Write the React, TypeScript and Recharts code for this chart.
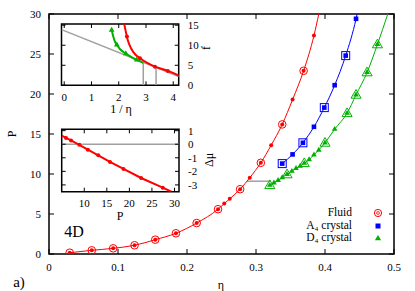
import React from "react";
import { ComposedChart, Line, XAxis, YAxis, ReferenceArea } from "recharts";

const SERIF = '"Liberation Serif", "DejaVu Serif", serif';
const RED = "#ff0000";
const BLUE = "#0000ff";
const GREEN = "#00b000";
const GRAY = "#a0a0a0";

// main panel: pressure vs packing fraction
const etaTicks = [0, 0.1, 0.2, 0.3, 0.4, 0.5];
const pTicks = [0, 5, 10, 15, 20, 25, 30];

const fluidEta = [0.03, 0.062, 0.093, 0.124, 0.154, 0.184, 0.214, 0.245, 0.254, 0.262, 0.277, 0.291, 0.307, 0.322, 0.338, 0.353, 0.369, 0.384, 0.391];
const fluidP = [0.16, 0.46, 0.71, 1.09, 1.79, 2.59, 3.87, 5.6, 6.3, 6.9, 8.1, 9.54, 11.4, 13.6, 16.2, 19.3, 22.9, 27.3, 30];
const fluidSimEta = [0.03, 0.062, 0.093, 0.124, 0.154, 0.184, 0.214, 0.245, 0.277, 0.307, 0.338, 0.369];
const fluidSimP = [0.16, 0.46, 0.71, 1.09, 1.79, 2.59, 3.87, 5.6, 8.1, 11.4, 16.2, 22.9];

const a4Eta = [0.338, 0.353, 0.368, 0.384, 0.399, 0.414, 0.43, 0.445, 0.4465];
const a4P = [11.3, 12.45, 13.9, 15.9, 18.3, 21.1, 24.8, 29.4, 30];
const a4SimEta = [0.338, 0.368, 0.399, 0.43];
const a4SimP = [11.3, 13.9, 18.3, 24.8];

const d4Eta = [0.32, 0.326, 0.332, 0.338, 0.345, 0.352, 0.358, 0.364, 0.37, 0.377, 0.384, 0.391, 0.4, 0.414, 0.432, 0.445, 0.461, 0.476, 0.491];
const d4P = [8.6, 8.9, 9.2, 9.55, 9.95, 10.35, 10.7, 11.0, 11.35, 11.8, 12.4, 13.0, 13.9, 15.6, 17.6, 19.9, 22.7, 26.2, 30];
const d4SimEta = [0.32, 0.345, 0.37, 0.4, 0.432, 0.445, 0.461, 0.476];
const d4SimP = [8.6, 9.95, 11.35, 13.9, 17.6, 19.9, 22.7, 26.2];

const tieEta = [0.287, 0.321];
const tieP = [9.1, 9.1];

// upper inset: free energy vs 1/eta
const invEtaTicks = [0, 1, 2, 3, 4];
const fTicks = [0, 5, 10, 15];
const tangentInvEta = [-0.1, 4.2];
const tangentF = [13.9, 2.2];
const fluidInvEta = [2.2, 2.26, 2.33, 2.45, 2.6, 2.78, 3.03, 3.33, 3.8, 4.2];
const fluidF = [15.3, 13.4, 11.3, 9.25, 7.75, 6.75, 5.65, 4.65, 3.6, 2.45];
const fluidDotInvEta = [2.3, 2.78, 3.33, 3.8];
const fluidDotF = [12.2, 6.75, 4.65, 3.6];
const d4InvEta = [1.74, 1.8, 1.86, 1.93, 2.05, 2.26, 2.48, 2.66, 2.9];
const d4F = [13.8, 12.2, 10.9, 10.1, 9.0, 7.9, 7.0, 6.35, 5.6];
const d4TriInvEta = [1.74, 1.93, 2.26, 2.66];
const d4TriF = [13.8, 10.1, 7.9, 6.35];
const coexInvEta = [2.9, 3.37];
const coexF = [5.7, 4.5];

// lower inset: chemical potential difference vs P
const pInsetTicks = [10, 15, 20, 25, 30];
const dmuTicks = [-3, -2, -1, 0, 1];
const dmuP = [5.0, 5.96, 7.07, 8.9, 10.8, 13.1, 15.7, 18.7, 22.6, 27.4, 29.3];
const dmu = [0.63, 0.46, 0.28, -0.04, -0.4, -0.82, -1.31, -1.82, -2.49, -3.2, -3.5];
const zeroP = [5, 31];
const zeroDmu = [0, 0];

const pts = (xs: number[], ys: number[]) => xs.map((x, i) => ({ x, y: ys[i] }));

const labelStyle = { fontFamily: SERIF, fontSize: 11, fill: "#000" };

const xTick = (far: number, len: number, gap: number) => (p: any) => {
  const { x, y, payload } = p;
  return (
    <g>
      <line x1={x} x2={x} y1={y} y2={y - len} stroke="#000" />
      <line x1={x} x2={x} y1={far} y2={far + len} stroke="#000" />
      <text x={x} y={y + gap} textAnchor="middle" dominantBaseline="central" {...labelStyle}>
        {String(payload.value)}
      </text>
    </g>
  );
};

const yTickLeft = (far: number, len: number, gap: number) => (p: any) => {
  const { x, y, payload } = p;
  return (
    <g>
      <line x1={x} x2={x + len} y1={y} y2={y} stroke="#000" />
      <line x1={far} x2={far - len} y1={y} y2={y} stroke="#000" />
      <text x={x - gap} y={y} textAnchor="end" dominantBaseline="central" {...labelStyle}>
        {String(payload.value)}
      </text>
    </g>
  );
};

const yTickRight = (far: number, len: number, gap: number) => (p: any) => {
  const { x, y, payload } = p;
  return (
    <g>
      <line x1={x} x2={x - len} y1={y} y2={y} stroke="#000" />
      <line x1={far} x2={far + len} y1={y} y2={y} stroke="#000" />
      <text x={x + gap} y={y} textAnchor="start" dominantBaseline="central" {...labelStyle}>
        {String(payload.value)}
      </text>
    </g>
  );
};

const tri = (cx: number, cy: number, s: number) =>
  `${cx},${cy - s} ${cx - s * 0.87},${cy + s * 0.5} ${cx + s * 0.87},${cy + s * 0.5}`;

const smallDot = (color: string, r: number, top: number) => (p: any) => {
  const { cx, cy, payload, index } = p;
  if (payload.y >= top) return <g key={index} />;
  return <circle key={index} cx={cx} cy={cy} r={r} fill={color} />;
};

const openCircle = (p: any) => (
  <circle key={p.index} cx={p.cx} cy={p.cy} r={3.8} fill="none" stroke={RED} strokeWidth={1} />
);

const smallSquare = (p: any) => {
  const { cx, cy, payload, index } = p;
  if (payload.y >= 30) return <g key={index} />;
  return <rect key={index} x={cx - 2.3} y={cy - 2.3} width={4.6} height={4.6} fill={BLUE} />;
};

const openSquare = (p: any) => (
  <rect key={p.index} x={p.cx - 4} y={p.cy - 4} width={8} height={8} fill="none" stroke={BLUE} strokeWidth={1} />
);

const smallTri = (s: number) => (p: any) => {
  const { cx, cy, payload, index } = p;
  if (payload.y >= 30) return <g key={index} />;
  return <polygon key={index} points={tri(cx, cy, s)} fill={GREEN} />;
};

const openTri = (p: any) => (
  <polygon key={p.index} points={tri(p.cx, p.cy + 0.5, 5.8)} fill="none" stroke={GREEN} strokeWidth={1} />
);

const innerDots = (color: string, r: number, n: number) => (p: any) => {
  const { cx, cy, index } = p;
  if (index === 0 || index === n - 1) return <g key={index} />;
  return <circle key={index} cx={cx} cy={cy} r={r} fill={color} />;
};

const axisCommon = {
  type: "number" as const,
  allowDataOverflow: true,
  interval: 0 as const,
  axisLine: false,
  tickLine: false,
  tickSize: 0,
  tickMargin: 0,
};

function Text({ x, y, size = 12, rot = 0, children }: any) {
  return (
    <div
      style={{
        position: "absolute",
        left: x,
        top: y,
        transform: `translate(-50%, -50%) rotate(${rot}deg)`,
        fontFamily: SERIF,
        fontSize: size,
        lineHeight: 1,
        whiteSpace: "nowrap",
        color: "#000",
      }}
    >
      {children}
    </div>
  );
}

function LegendRow({ y, children, marker }: any) {
  return (
    <>
      <div
        style={{
          position: "absolute",
          right: 63,
          top: y,
          transform: "translateY(-50%)",
          fontFamily: SERIF,
          fontSize: 11.5,
          lineHeight: 1,
          whiteSpace: "nowrap",
        }}
      >
        {children}
      </div>
      <svg style={{ position: "absolute", left: 371, top: y - 6 }} width={14} height={12}>
        {marker}
      </svg>
    </>
  );
}

export default function App() {
  return (
    <div style={{ position: "absolute", left: 0, top: 0, width: 415, height: 291, background: "#fff" }}>
      <ComposedChart width={415} height={291} margin={{ top: 14, right: 21, left: 0, bottom: 0 }}>
        <XAxis {...axisCommon} dataKey="x" domain={[0, 0.5]} ticks={etaTicks} height={37} tick={xTick(14, 5, 13)} />
        <YAxis {...axisCommon} dataKey="y" domain={[0, 30]} ticks={pTicks} width={49} tick={yTickLeft(394, 5, 8)} />
        <ReferenceArea x1={0} x2={0.5} y1={0} y2={30} fill="none" stroke="#000" strokeWidth={1.5} ifOverflow="visible" />
        <Line data={pts(tieEta, tieP)} dataKey="y" type="linear" stroke={GRAY} strokeWidth={1.5} dot={false} isAnimationActive={false} />
        <Line data={pts(fluidEta, fluidP)} dataKey="y" type="monotone" stroke={RED} strokeWidth={1} dot={smallDot(RED, 2, 30)} isAnimationActive={false} />
        <Line data={pts(fluidSimEta, fluidSimP)} dataKey="y" stroke="none" dot={openCircle} isAnimationActive={false} />
        <Line data={pts(a4Eta, a4P)} dataKey="y" type="monotone" stroke={BLUE} strokeWidth={1} dot={smallSquare} isAnimationActive={false} />
        <Line data={pts(a4SimEta, a4SimP)} dataKey="y" stroke="none" dot={openSquare} isAnimationActive={false} />
        <Line data={pts(d4Eta, d4P)} dataKey="y" type="monotone" stroke={GREEN} strokeWidth={1} dot={smallTri(3.3)} isAnimationActive={false} />
        <Line data={pts(d4SimEta, d4SimP)} dataKey="y" stroke="none" dot={openTri} isAnimationActive={false} />
      </ComposedChart>

      <div style={{ position: "absolute", left: 0, top: 0 }}>
        <ComposedChart width={215} height={120} margin={{ top: 24, right: 0, left: 61.5, bottom: 0 }}>
          <XAxis {...axisCommon} dataKey="x" domain={[-0.1, 4.2]} ticks={invEtaTicks} height={34.7} tick={xTick(24, 4, 11.5)} />
          <YAxis {...axisCommon} dataKey="y" orientation="right" domain={[0, 15.3]} ticks={fTicks} width={36.3} tick={yTickRight(61.5, 4, 9)} />
          <ReferenceArea x1={-0.1} x2={4.2} y1={0} y2={15.3} fill="#fff" stroke="#000" strokeWidth={1.5} ifOverflow="visible" />
          <Line data={pts(tangentInvEta, tangentF)} dataKey="y" type="linear" stroke={GRAY} strokeWidth={1.5} dot={false} isAnimationActive={false} />
          <Line data={pts([coexInvEta[0], coexInvEta[0]], [0, coexF[0]])} dataKey="y" type="linear" stroke={GRAY} strokeWidth={1.5} dot={false} isAnimationActive={false} />
          <Line data={pts([coexInvEta[1], coexInvEta[1]], [0, coexF[1]])} dataKey="y" type="linear" stroke={GRAY} strokeWidth={1.5} dot={false} isAnimationActive={false} />
          <Line data={pts(fluidInvEta, fluidF)} dataKey="y" type="monotone" stroke={RED} strokeWidth={2} dot={false} isAnimationActive={false} />
          <Line data={pts(fluidDotInvEta, fluidDotF)} dataKey="y" stroke="none" dot={smallDot(RED, 2, 99)} isAnimationActive={false} />
          <Line data={pts(d4InvEta, d4F)} dataKey="y" type="monotone" stroke={GREEN} strokeWidth={2} dot={false} isAnimationActive={false} />
          <Line data={pts(d4TriInvEta, d4TriF)} dataKey="y" stroke="none" dot={smallTri(3.3)} isAnimationActive={false} />
        </ComposedChart>
      </div>

      <div style={{ position: "absolute", left: 0, top: 100 }}>
        <ComposedChart width={215} height={120} margin={{ top: 29.3, right: 0, left: 61.7, bottom: 0 }}>
          <XAxis {...axisCommon} dataKey="x" domain={[5, 31]} ticks={pInsetTicks} height={28.3} tick={xTick(29.3, 4, 11.5)} />
          <YAxis {...axisCommon} dataKey="y" orientation="right" domain={[-3.5, 1.1]} ticks={dmuTicks} width={36} tick={yTickRight(61.7, 4, 9)} />
          <ReferenceArea x1={5} x2={31} y1={-3.5} y2={1.1} fill="#fff" stroke="#000" strokeWidth={1.5} ifOverflow="visible" />
          <Line data={pts(zeroP, zeroDmu)} dataKey="y" type="linear" stroke={GRAY} strokeWidth={1.5} dot={false} isAnimationActive={false} />
          <Line data={pts(dmuP, dmu)} dataKey="y" type="linear" stroke={RED} strokeWidth={2} dot={innerDots(RED, 2, dmuP.length)} isAnimationActive={false} />
        </ComposedChart>
      </div>

      <Text x={12} y={134} rot={-90}>P</Text>
      <Text x={221} y={285}>η</Text>
      <Text x={19} y={282} size={15}>a)</Text>
      <Text x={74} y={232} size={16}>4D</Text>
      <Text x={121} y={109}>1 / η</Text>
      <Text x={206} y={48} rot={-90}>f</Text>
      <Text x={120} y={216}>P</Text>
      <Text x={209} y={160} rot={-90}>Δμ</Text>

      <LegendRow
        y={213.3}
        marker={
          <g>
            <circle cx={7} cy={6} r={3.6} fill="none" stroke={RED} />
            <circle cx={7} cy={6} r={1.4} fill="none" stroke={RED} strokeWidth={0.8} />
          </g>
        }
      >
        Fluid
      </LegendRow>
      <LegendRow y={225.6} marker={<rect x={4.5} y={3.5} width={5} height={5} fill={BLUE} />}>
        A₄ crystal
      </LegendRow>
      <LegendRow y={237.9} marker={<polygon points={tri(7, 6.5, 3.6)} fill={GREEN} />}>
        D₄ crystal
      </LegendRow>
    </div>
  );
}
